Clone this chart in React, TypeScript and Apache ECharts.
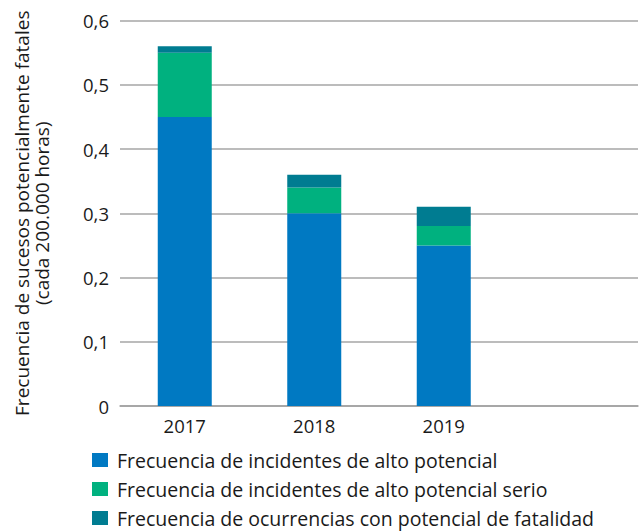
import React, { useEffect, useRef } from "react";
import * as echarts from "echarts";

const categories = ["2017", "2018", "2019", ""];
const altoPotencial = [0.45, 0.30, 0.25, null];
const altoPotencialSerio = [0.10, 0.04, 0.03, null];
const ocurrenciasFatalidad = [0.01, 0.02, 0.03, null];
const seriesNames = [
  "Frecuencia de incidentes de alto potencial",
  "Frecuencia de incidentes de alto potencial serio",
  "Frecuencia de ocurrencias con potencial de fatalidad",
];
const colors = ["#0079C2", "#00B17F", "#007C91"];

export default function App() {
  const ref = useRef<HTMLDivElement>(null);
  useEffect(() => {
    if (!ref.current) return;
    const chart = echarts.init(ref.current, null, { renderer: "svg" });
    const font = "'Open Sans', 'Noto Sans', sans-serif";
    const datas = [altoPotencial, altoPotencialSerio, ocurrenciasFatalidad];
    chart.setOption({
      animation: false,
      textStyle: { fontFamily: font },
      grid: { left: 120, right: 1, top: 20.5, bottom: 125 },
      legend: {
        orient: "vertical",
        left: 92,
        top: 450,
        padding: 0,
        itemWidth: 16,
        itemHeight: 14,
        itemGap: 9,
        icon: "rect",
        textStyle: { fontSize: 19.5, lineHeight: 19, color: "#1a1a1a", fontFamily: font, padding: [0, 0, 0, 4] },
        data: seriesNames,
      },
      xAxis: {
        type: "category",
        data: categories,
        axisLine: { lineStyle: { color: "#a0a0a0", width: 1.5 } },
        axisTick: { show: false },
        axisLabel: { fontSize: 18.5, color: "#1a1a1a", margin: 10 },
      },
      yAxis: {
        type: "value",
        min: 0,
        max: 0.6,
        interval: 0.1,
        name: "Frecuencia de sucesos potencialmente fatales\n(cada 200.000 horas)",
        nameLocation: "middle",
        nameRotate: 90,
        nameGap: 68,
        nameTextStyle: { fontSize: 19, color: "#1a1a1a", lineHeight: 20 },
        axisLine: { show: false },
        axisTick: { show: false },
        splitLine: { lineStyle: { color: "#a6a6a6", width: 1.5 } },
        axisLabel: {
          fontSize: 18.5,
          color: "#1a1a1a",
          margin: 11,
          formatter: (v: number) => (v === 0 ? "0" : v.toFixed(1).replace(".", ",")),
        },
      },
      series: seriesNames.map((name, i) => ({
        name,
        type: "bar",
        stack: "total",
        barWidth: 54,
        data: datas[i],
        itemStyle: { color: colors[i] },
      })),
    });
    return () => chart.dispose();
  }, []);
  return <div ref={ref} style={{ width: 639, height: 531, position: "absolute", left: 0, top: 0 }} />;
}
